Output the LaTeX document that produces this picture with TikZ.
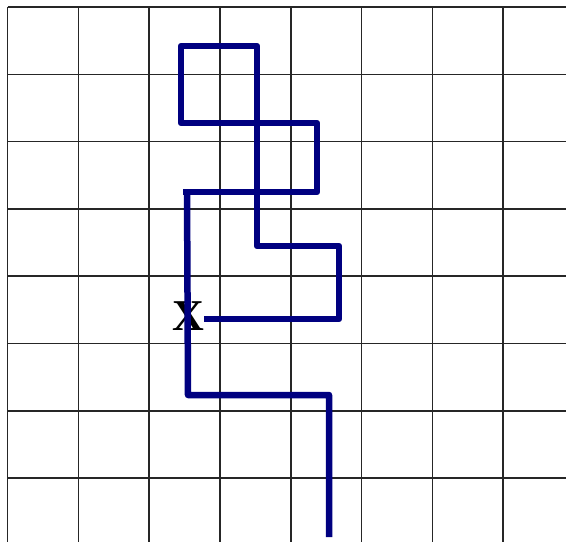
\documentclass[tikz,border=0pt]{standalone}
\usepackage{fontspec}
\setmainfont{Liberation Serif}
\definecolor{pathblue}{RGB}{0,0,128}
\begin{document}
\begin{tikzpicture}[x=1pt,y=-1pt,
  gridline/.style={line width=1.6pt,black!85},
  walk/.style={line width=6.5pt,pathblue,line join=round,line cap=butt}]
\useasboundingbox (0,0) rectangle (566,542);
\fill[white] (0,0) rectangle (566,542);
% grid
\foreach \i in {0,...,7} {
  \draw[gridline] ({7.5+70.8*\i},7) -- ({7.5+70.8*\i},542);
  \draw[gridline] (7.5,{7+67.3*\i}) -- (566,{7+67.3*\i});
}
% corners of the walk
\coordinate (a0) at (183,192);
\coordinate (a1) at (317,192);
\coordinate (a2) at (317,123);
\coordinate (a3) at (181,123);
\coordinate (a4) at (181,46);
\coordinate (a5) at (257,46);
\coordinate (a6) at (257,246);
\coordinate (a7) at (339,246);
\coordinate (a8) at (339,319);
\coordinate (a9) at (204,319);
\coordinate (b0) at (187,190);
\coordinate (b1) at (188,395);
\coordinate (b2) at (329,395);
\coordinate (b3) at (329,537);
\node[font=\bfseries\fontsize{44}{44}\selectfont,inner sep=0pt] (xmark) at (188,316) {X};
\draw[walk] (a0) -- (a1) -- (a2) -- (a3) -- (a4) -- (a5) -- (a6) -- (a7) -- (a8) -- (a9);
\draw[walk] (b0) -- (b1) -- (b2) -- (b3);
\end{tikzpicture}
\end{document}
